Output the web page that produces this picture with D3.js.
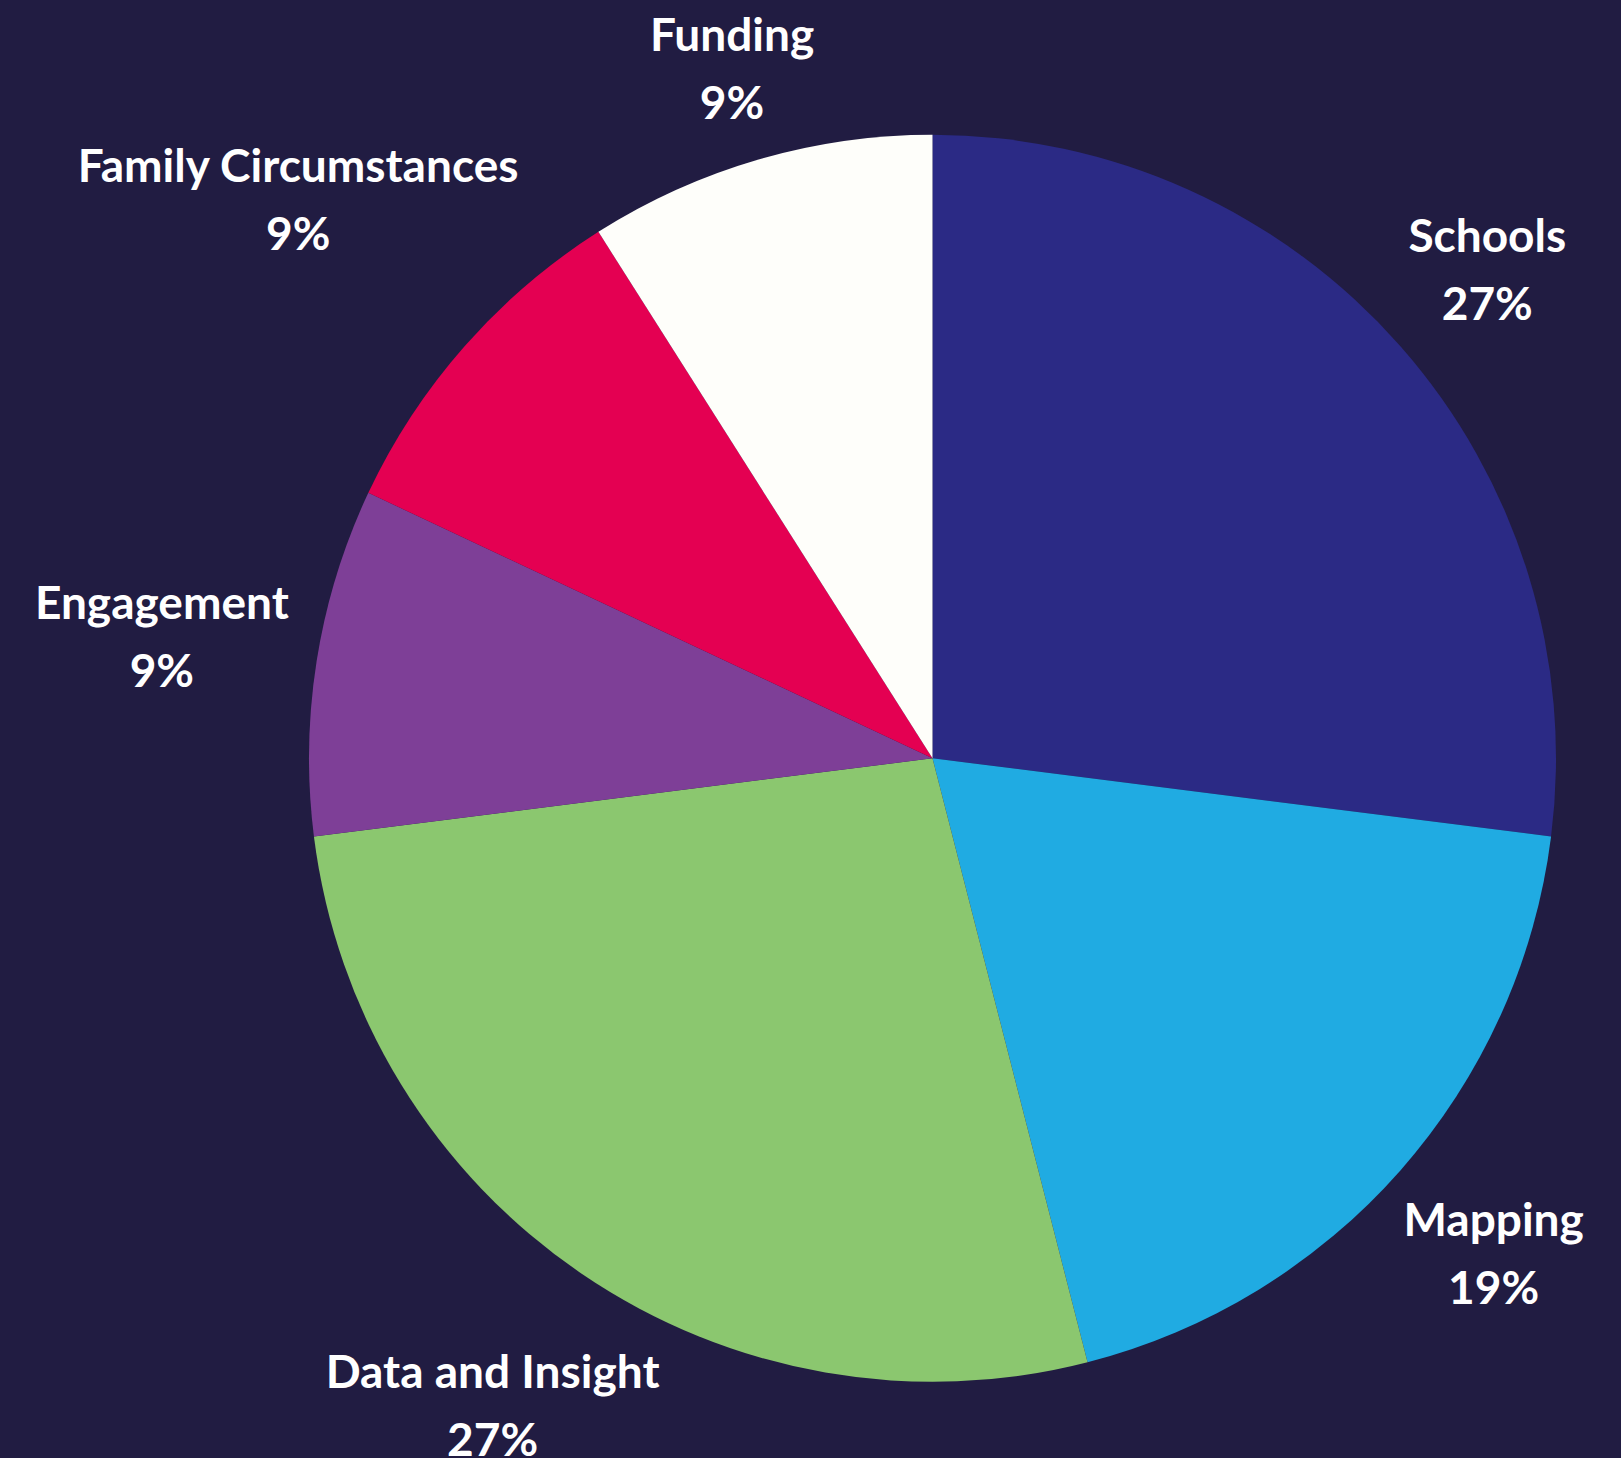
<!DOCTYPE html>
<html>
<head>
<meta charset="utf-8">
<script src="https://cdn.jsdelivr.net/npm/d3@7"></script>
<style>
  html, body { margin: 0; padding: 0; background: #211c42; }
  #chart { width: 1621px; height: 1458px; }
  text { font-family: Lato, "Open Sans", sans-serif; font-weight: 700; fill: #ffffff; }
</style>
</head>
<body>
<div id="chart"></div>
<script>
var categories = ["Schools", "Mapping", "Data and Insight", "Engagement", "Family Circumstances", "Funding"];
var values = [27, 19, 27, 9, 9, 9];
var colours = ["#2b2a85", "#20abe2", "#8bc76f", "#7e3f97", "#e40052", "#fefefa"];

var width = 1621,
    height = 1458;

var cx = 932.5,
    cy = 758.3,
    radius = 623.5,
    labelGap = 647,   // distance from centre to the nearest edge of a label box
    fontSize = 46,
    lineGap = 68;

var svg = d3.select("#chart").append("svg")
    .attr("width", width)
    .attr("height", height);

svg.append("rect")
    .attr("width", width)
    .attr("height", height)
    .attr("fill", "#211c42");

var table = categories.map(function (c, i) {
    return { name: c, value: values[i], colour: colours[i] };
});

var pie = d3.pie()
    .value(function (d) { return d.value; })
    .sort(null);

var arc = d3.arc()
    .innerRadius(0)
    .outerRadius(radius);

var g = svg.append("g")
    .attr("transform", "translate(" + cx + "," + cy + ")");

var arcs = pie(table);

g.selectAll("path")
    .data(arcs)
    .enter().append("path")
    .attr("d", arc)
    .attr("fill", function (d) { return d.data.colour; });

var total = d3.sum(values);

// labels: two lines, box pushed outward along the slice's mid angle
var labels = g.selectAll("g.label")
    .data(arcs)
    .enter().append("g")
    .attr("class", "label");

labels.append("text")
    .attr("class", "name")
    .attr("text-anchor", "middle")
    .style("font-size", fontSize + "px")
    .text(function (d) { return d.data.name; });

labels.append("text")
    .attr("class", "pct")
    .attr("text-anchor", "middle")
    .attr("y", lineGap)
    .style("font-size", fontSize + "px")
    .text(function (d) { return Math.round(d.data.value / total * 100) + "%"; });

labels.each(function (d) {
    var node = d3.select(this);
    var w = node.select("text.name").node().getComputedTextLength();
    var capH = fontSize * 0.72;
    var h = capH + lineGap;
    var a = (d.startAngle + d.endAngle) / 2;
    var sx = Math.sin(a), sy = -Math.cos(a);
    // push the box out until its nearest edge sits at labelGap
    var dist = labelGap + Math.abs(sx) * w / 2 + Math.abs(sy) * h / 2;
    var bx = dist * sx;
    var by = dist * sy;
    var baseY = by - h / 2 + capH;
    node.attr("transform", "translate(" + bx + "," + baseY + ")");
});
</script>
</body>
</html>
